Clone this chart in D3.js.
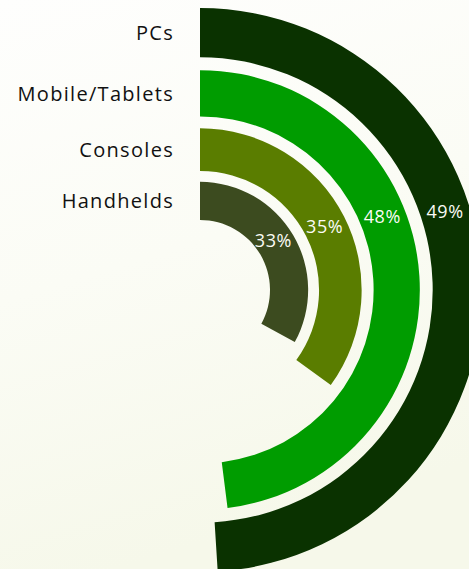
<!DOCTYPE html>
<html>
<head>
<meta charset="utf-8">
<script src="https://cdn.jsdelivr.net/npm/d3@7"></script>
<style>
  html, body { margin: 0; padding: 0; background: #fbfcf6; }
  svg { display: block; }
  .cat { font-family: "Open Sans", sans-serif; font-size: 20px; font-weight: 400; letter-spacing: 1.3px; fill: #111111; }
  .pct { font-family: "Open Sans", sans-serif; font-size: 18px; font-weight: 400; letter-spacing: 0.6px; fill: #fbfbf6; }
</style>
</head>
<body>
<script>
// Share of players by device, innermost ring first
const categories = ["Handhelds", "Consoles", "Mobile/Tablets", "PCs"];
const shares = [33, 35, 48, 49];
const palette = ["#3c4b1f", "#5a7d00", "#009c00", "#0a3200"];

const width = 469, height = 569;
const cx = 200, cy = 290;
const rMin = 70, rMax = 282;
const warp = 0.76; // rings thicken slightly towards the outside

const svg = d3.select("body").append("svg")
  .attr("width", width)
  .attr("height", height);

// soft cream backdrop
const defs = svg.append("defs");
const grad = defs.append("linearGradient")
  .attr("id", "bg")
  .attr("x1", "0").attr("y1", "0")
  .attr("x2", "0.25").attr("y2", "1");
grad.append("stop").attr("offset", "0").attr("stop-color", "#fefefd");
grad.append("stop").attr("offset", "0.5").attr("stop-color", "#fbfcf5");
grad.append("stop").attr("offset", "1").attr("stop-color", "#f6f8ea");
svg.append("rect")
  .attr("width", width).attr("height", height)
  .attr("fill", "url(#bg)");

// rings laid out as bands in a warped radial space
const band = d3.scaleBand()
  .domain(categories)
  .range([Math.pow(rMin, warp), Math.pow(rMax, warp)])
  .paddingInner(0.212)
  .paddingOuter(0);

const radius = d3.scalePow()
  .exponent(1 / warp)
  .domain([0, Math.pow(rMax, warp)])
  .range([0, rMax]);

const angle = d3.scaleLinear().domain([0, 100]).range([0, 2 * Math.PI]);
const color = d3.scaleOrdinal().domain(categories).range(palette);

const rows = categories.map((c, i) => {
  const inner = radius(band(c));
  const outer = radius(band(c) + band.bandwidth());
  return { category: c, value: shares[i], inner, outer, mid: (inner + outer) / 2 };
});

// value labels sit further round on the wider rings
const labelAngle = d3.scaleLog()
  .domain([rows[0].mid, rows[rows.length - 1].mid])
  .range([55.5 * Math.PI / 180, 72.2 * Math.PI / 180]);

const arc = d3.arc()
  .innerRadius(d => d.inner)
  .outerRadius(d => d.outer)
  .startAngle(0)
  .endAngle(d => angle(d.value));

const g = svg.append("g").attr("transform", `translate(${cx},${cy})`);

g.selectAll("path.ring")
  .data(rows)
  .join("path")
  .attr("class", "ring")
  .attr("d", arc)
  .attr("fill", d => color(d.category));

g.selectAll("text.pct")
  .data(rows)
  .join("text")
  .attr("class", "pct")
  .attr("x", d => d.mid * Math.sin(labelAngle(d.mid)))
  .attr("y", d => -d.mid * Math.cos(labelAngle(d.mid)))
  .attr("text-anchor", "middle")
  .attr("dominant-baseline", "central")
  .text(d => `${d.value}%`);

g.selectAll("text.cat")
  .data(rows)
  .join("text")
  .attr("class", "cat")
  .attr("x", -26)
  .attr("y", d => -d.mid)
  .attr("text-anchor", "end")
  .attr("dominant-baseline", "central")
  .text(d => d.category);
</script>
</body>
</html>
